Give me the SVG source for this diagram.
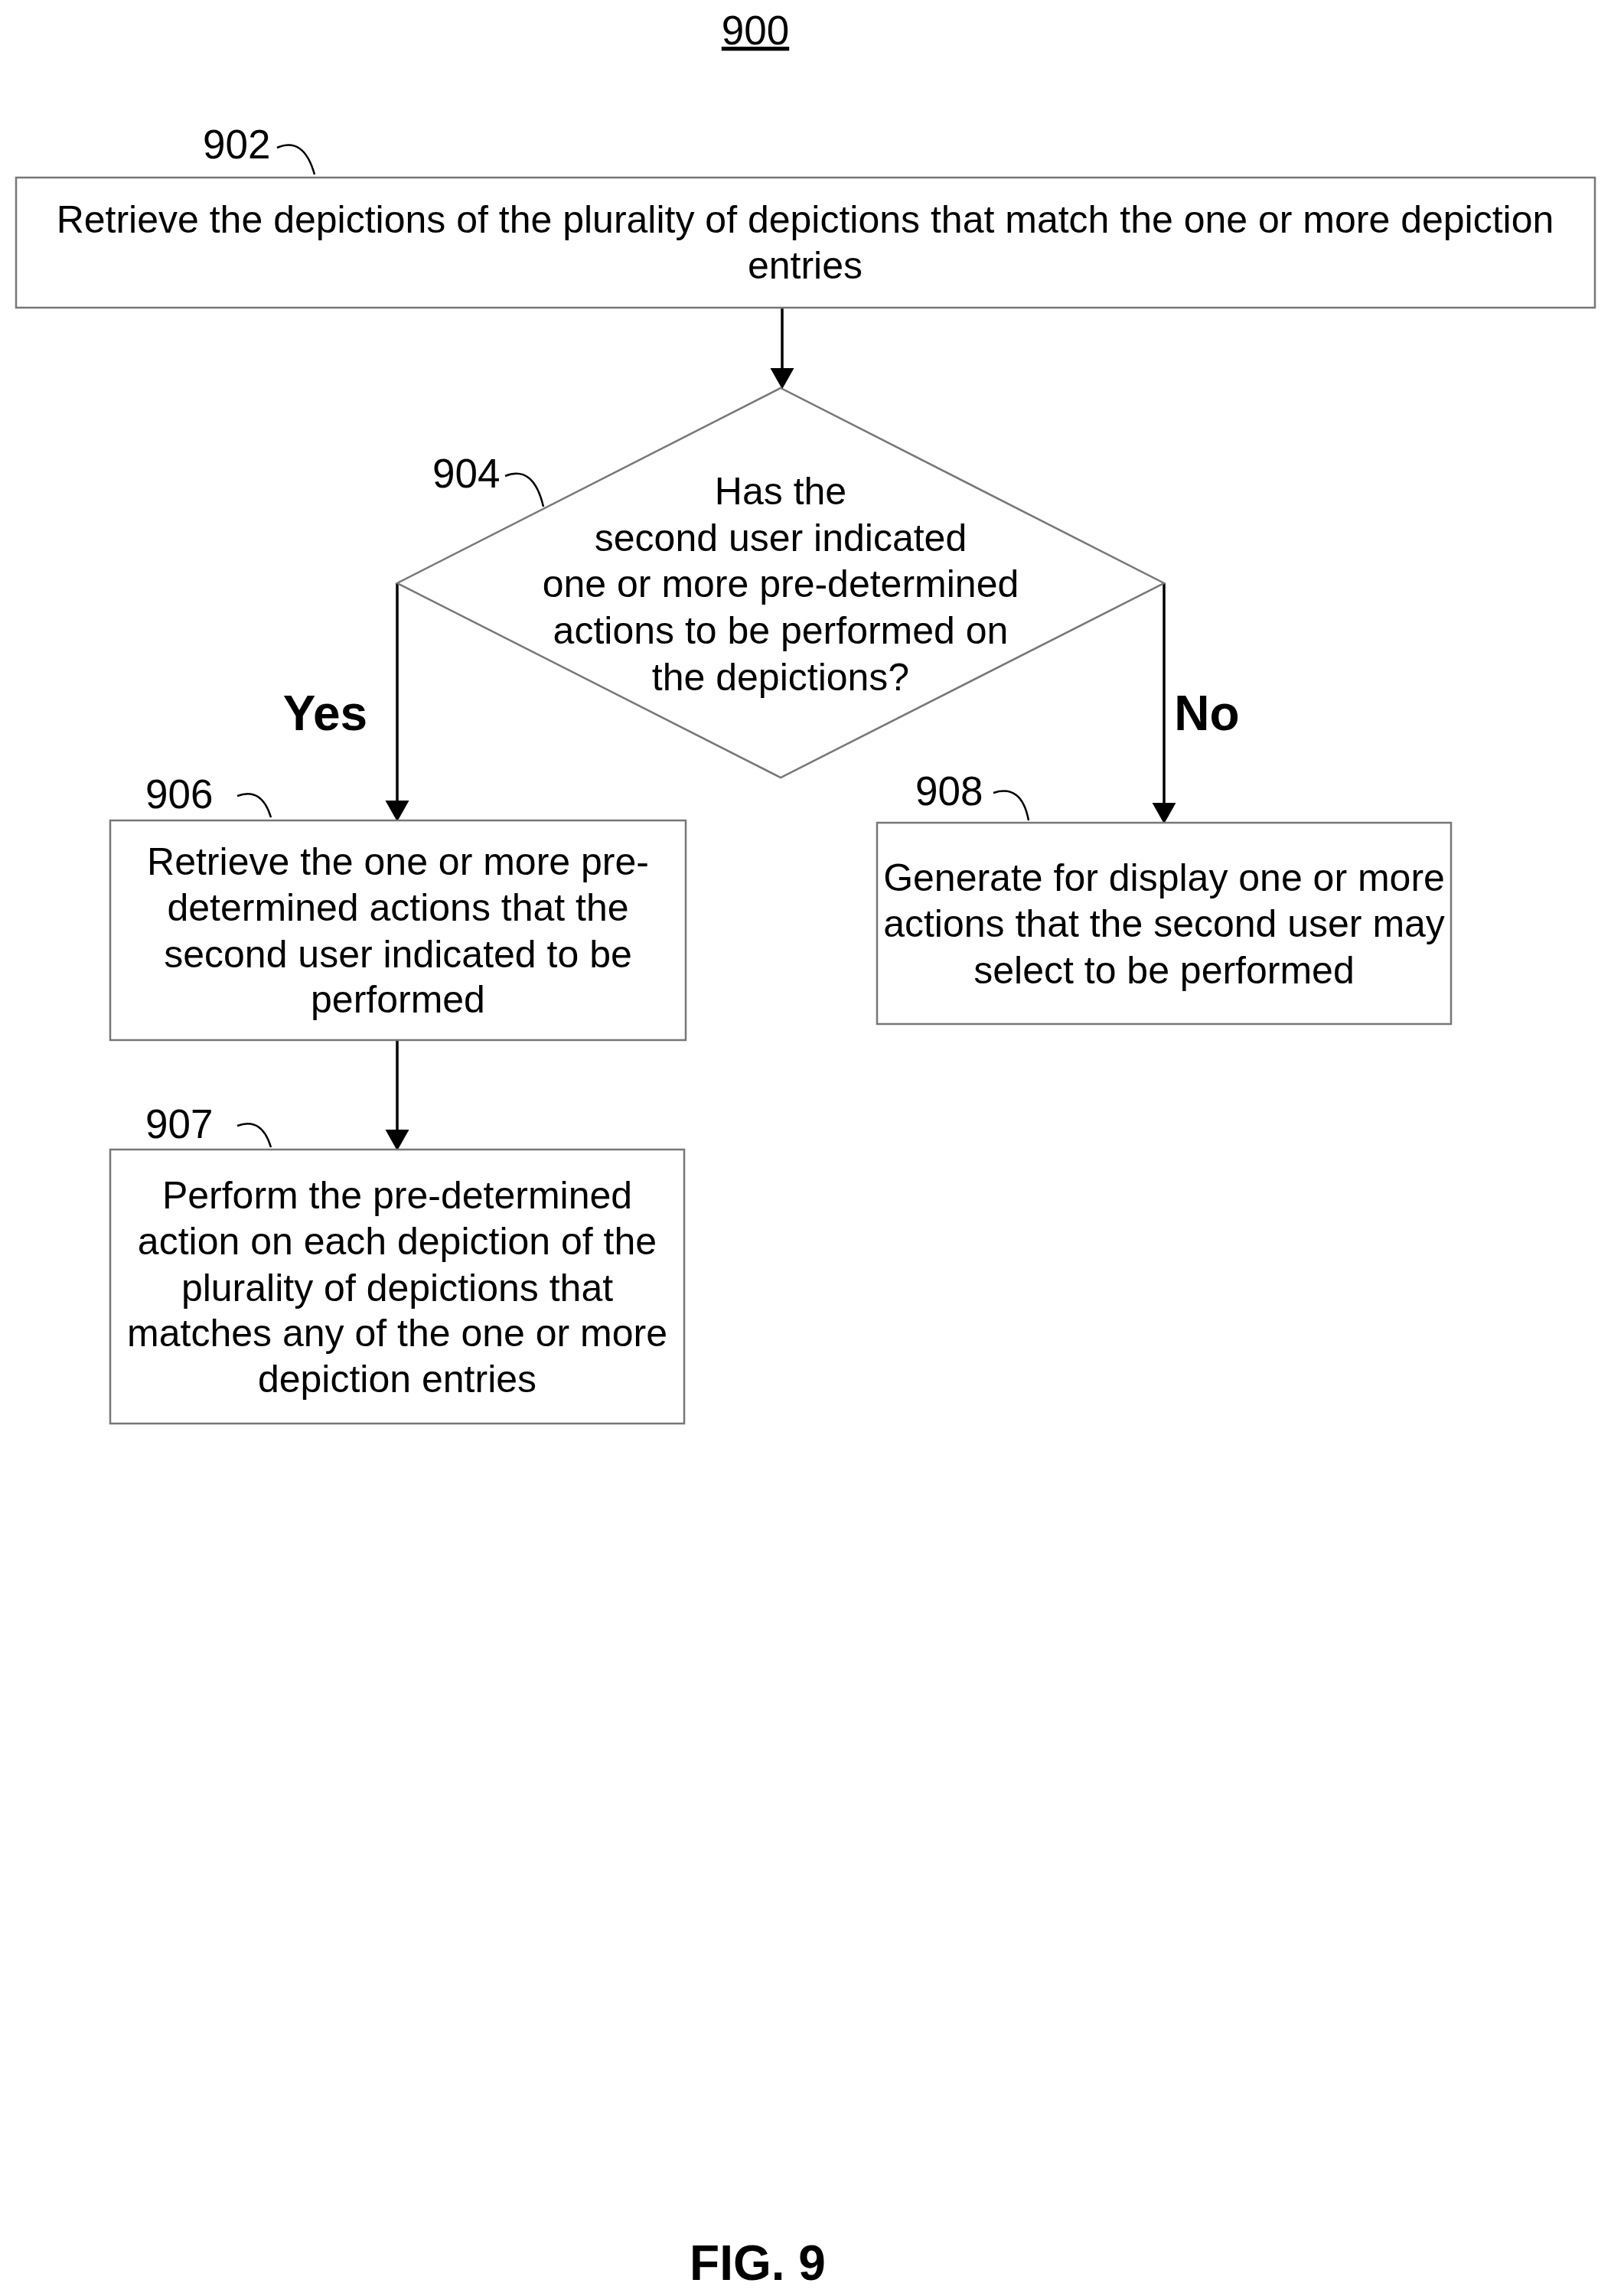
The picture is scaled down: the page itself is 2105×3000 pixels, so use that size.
<svg xmlns="http://www.w3.org/2000/svg" width="2105" height="3000" viewBox="0 0 2105 3000">
<style>
text{font-family:"Liberation Sans",Arial,sans-serif;fill:#000}
.t{font-size:50px;text-anchor:middle}
.n{font-size:53px}
.b{fill:#fff;stroke:#777;stroke-width:2.5}
.c{fill:none;stroke:#000;stroke-width:3.5}
.l{fill:none;stroke:#000;stroke-width:2.5}
.y{font-size:64px;font-weight:bold}
</style>
<defs><marker id="a" markerWidth="8" markerHeight="9" refX="7" refY="4.5" orient="auto" markerUnits="strokeWidth"><path d="M0,0L8,4.5L0,9z" fill="#000"/></marker></defs>
<rect width="2105" height="3000" fill="#fff"/>
<text class="n" x="987" y="58" text-anchor="middle" text-decoration="underline">900</text>
<g id="connectors">
<path class="c" d="M1022,402V505" marker-end="url(#a)"/>
<path class="c" d="M519,762V1070" marker-end="url(#a)"/>
<path class="c" d="M1521,762V1073" marker-end="url(#a)"/>
<path class="c" d="M519,1359V1500" marker-end="url(#a)"/>
<text class="y" x="425" y="954" text-anchor="middle">Yes</text>
<text class="y" x="1577" y="954" text-anchor="middle">No</text>
</g>
<g id="n902">
<rect class="b" x="21" y="232" width="2063" height="170"/>
<text class="t" x="1052" y="304">Retrieve the depictions of the plurality of depictions that match the one or more depiction</text>
<text class="t" x="1052" y="364">entries</text>
<text class="n" x="265" y="207">902</text>
<path class="l" d="M362,193q35,-15 49,35"/>
</g>
<g id="n904">
<polygon class="b" points="1020,507 1521,762 1020,1016 519,762"/>
<text class="t" x="1020" y="659">Has the</text>
<text class="t" x="1020" y="720">second user indicated</text>
<text class="t" x="1020" y="780">one or more pre-determined</text>
<text class="t" x="1020" y="841">actions to be performed on</text>
<text class="t" x="1020" y="902">the depictions?</text>
<text class="n" x="565" y="637">904</text>
<path class="l" d="M660,622q37,-15 50,40"/>
</g>
<g id="n906">
<rect class="b" x="144" y="1072" width="752" height="287"/>
<text class="t" x="520" y="1143">Retrieve the one or more pre-</text>
<text class="t" x="520" y="1203">determined actions that the</text>
<text class="t" x="520" y="1264">second user indicated to be</text>
<text class="t" x="520" y="1323">performed</text>
<text class="n" x="190" y="1056">906</text>
<path class="l" d="M310,1040q32,-12 44,28"/>
</g>
<g id="n908">
<rect class="b" x="1146" y="1075" width="750" height="263"/>
<text class="t" x="1521" y="1164">Generate for display one or more</text>
<text class="t" x="1521" y="1224">actions that the second user may</text>
<text class="t" x="1521" y="1285">select to be performed</text>
<text class="n" x="1196" y="1052">908</text>
<path class="l" d="M1298,1036q37,-12 46,36"/>
</g>
<g id="n907">
<rect class="b" x="144" y="1502" width="750" height="358"/>
<text class="t" x="519" y="1579">Perform the pre-determined</text>
<text class="t" x="519" y="1639">action on each depiction of the</text>
<text class="t" x="519" y="1700">plurality of depictions that</text>
<text class="t" x="519" y="1759">matches any of the one or more</text>
<text class="t" x="519" y="1819">depiction entries</text>
<text class="n" x="190" y="1487">907</text>
<path class="l" d="M310,1471q32,-12 44,28"/>
</g>
<text class="y" x="990" y="2979" text-anchor="middle">FIG. 9</text>
</svg>
